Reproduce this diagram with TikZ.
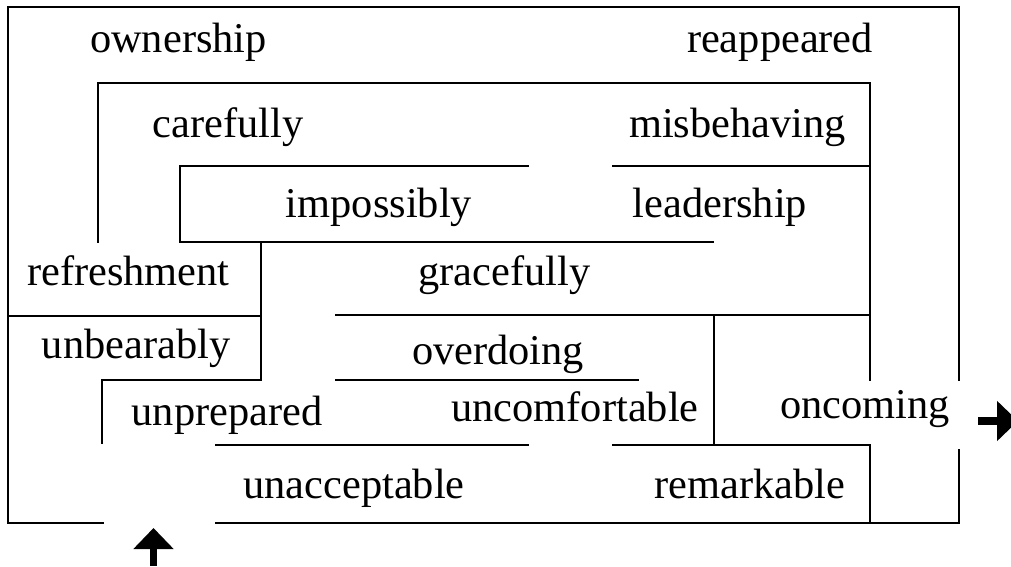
\documentclass[tikz,border=0pt]{standalone}
\usepackage{fontspec}
\setmainfont{Liberation Serif}
\usetikzlibrary{arrows.meta}
\begin{document}
\begin{tikzpicture}[x=0.5pt,y=-0.5pt,
  wall/.style={line width=1pt,line cap=rect},
  word/.style={anchor=base,inner sep=0pt,font=\fontsize{21.2}{25}\selectfont},
  marker/.style={line width=3.6pt,-{Triangle[width=19.5pt 0 0,length=10.5pt 0 0]}}]
\useasboundingbox (0,0) rectangle (1011,567);
% labels
\node[word] (ownership) at (178.5,53) {ownership};
\node[word] (reappeared) at (780,53) {reappeared};
\node[word] (carefully) at (228,137) {carefully};
\node[word] (misbehaving) at (737.5,137) {misbehaving};
\node[word] (impossibly) at (379,217) {impossibly};
\node[word] (leadership) at (720,217) {leadership};
\node[word] (refreshment) at (128.5,285) {refreshment};
\node[word] (gracefully) at (504.5,285) {gracefully};
\node[word] (unbearably) at (136,358) {unbearably};
\node[word] (overdoing) at (498,364) {overdoing};
\node[word] (unprepared) at (227,425) {unprepared};
\node[word] (uncomfortable) at (575,421) {uncomfortable};
\node[word] (oncoming) at (865,418) {oncoming};
\node[word] (unacceptable) at (354,498) {unacceptable};
\node[word] (remarkable) at (750,498) {remarkable};
% walls
\draw[wall] (103,523) -- (8,523) -- (8,7) -- (959,7) -- (959,380);
\draw[wall] (959,450) -- (959,523) -- (216,523);
\draw[wall] (98,242) -- (98,83) -- (870,83) -- (870,380);
\draw[wall] (613,166) -- (870,166);
\draw[wall] (528,166) -- (180,166) -- (180,242) -- (713,242);
\draw[wall] (261,242) -- (261,380) -- (102,380) -- (102,443);
\draw[wall] (8,316) -- (261,316);
\draw[wall] (336,315) -- (870,315);
\draw[wall] (714,315) -- (714,445);
\draw[wall] (336,380) -- (638,380);
\draw[wall] (216,445) -- (528,445);
\draw[wall] (613,445) -- (870,445) -- (870,523);
% entrance and exit markers
\coordinate (inS) at (153.5,566);
\coordinate (inE) at (153.5,528);
\coordinate (outS) at (978,421);
\coordinate (outE) at (1018,421);
\draw[marker] (inS) -- (inE);
\draw[marker] (outS) -- (outE);
\end{tikzpicture}
\end{document}
